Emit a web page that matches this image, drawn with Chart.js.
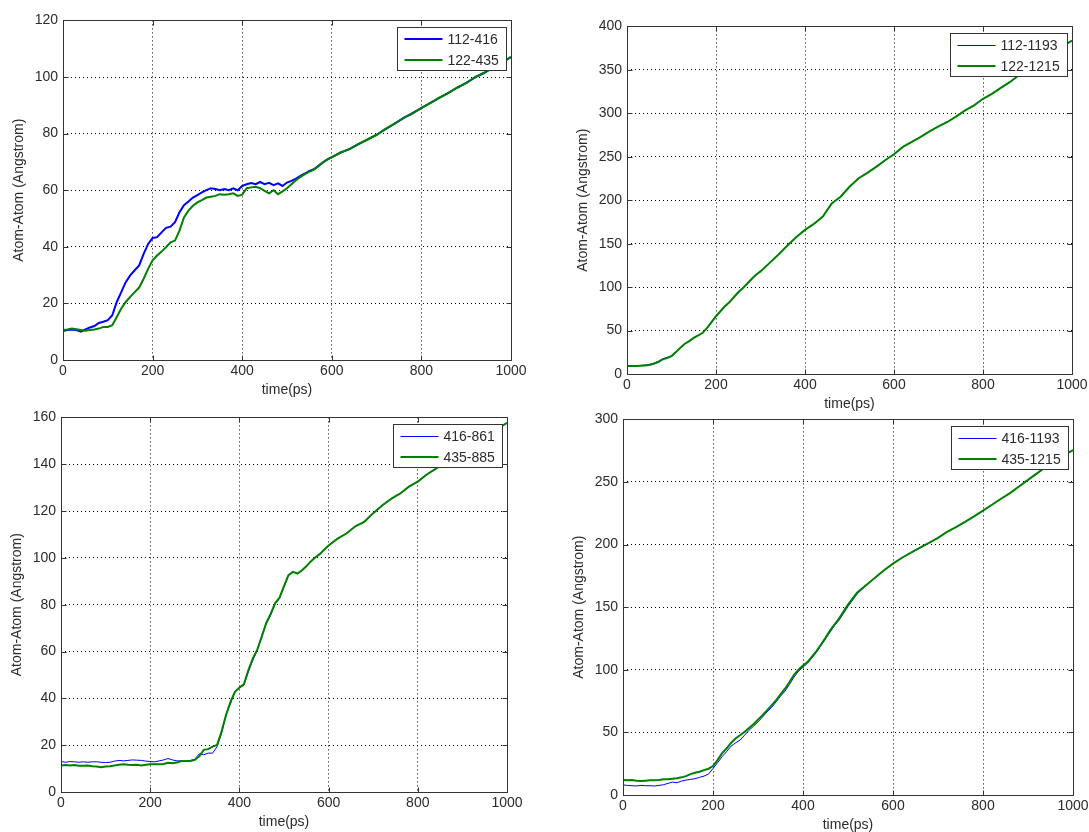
<!DOCTYPE html>
<html>
<head>
<meta charset="utf-8">
<script src="https://cdn.jsdelivr.net/npm/chart.js@4.4.1/dist/chart.umd.min.js"></script>
<style>
  html, body { margin:0; padding:0; background:#ffffff; width:1089px; height:832px; overflow:hidden; }
  canvas { position:absolute; }
</style>
</head>
<body>
<canvas id="c1" style="left:11px;top:7px" width="522" height="392"></canvas>
<canvas id="c2" style="left:575px;top:13px" width="519" height="400"></canvas>
<canvas id="c3" style="left:9px;top:404px" width="520" height="427"></canvas>
<canvas id="c4" style="left:571px;top:406px" width="524" height="428"></canvas>
<script>
// ---------- DATA ----------
const xTicks = [0, 200, 400, 600, 800, 1000];
const yTitle = 'Atom-Atom (Angstrom)';
const xTitle = 'time(ps)';

// Panel 1
const labels1 = ['112-416', '122-435'];
const yTicks1 = [0, 20, 40, 60, 80, 100, 120];
const time1 = [0,10,20,30,40,50,60,70,80,90,100,110,120,130,140,150,160,170,180,190,200,210,220,230,240,250,260,270,280,290,300,310,320,330,340,350,360,370,380,390,400,410,420,430,440,450,460,470,480,490,500,510,520,530,540,550,560,570,580,590,600,620,640,660,680,700,720,740,760,780,800,820,840,860,880,900,920,940,960,980,1000];
const blue1 = [10.2,10.6,10.8,10.6,10.0,10.8,11.5,12.0,13.1,13.5,14.1,15.8,20.5,24.0,27.5,29.9,31.7,33.4,37.5,41.0,43.1,43.4,45.1,46.7,47.1,48.7,52.2,54.7,56.0,57.4,58.3,59.2,60.0,60.7,60.4,60.0,60.4,60.0,60.7,60.0,61.5,62.1,62.5,62.1,62.9,62.1,62.6,61.8,62.4,61.5,62.7,63.3,64.1,65.1,65.9,66.8,67.4,68.6,69.8,70.9,71.7,73.3,74.6,76.4,77.9,79.6,81.6,83.5,85.5,87.2,89.0,90.9,92.6,94.4,96.2,97.9,99.9,101.5,103.4,105.2,107.0];
const green1 = [10.6,10.8,11.1,10.9,10.6,10.3,10.6,10.8,11.1,11.7,11.7,12.3,15.2,18.2,20.5,22.3,24.0,25.6,28.7,32.2,35.2,36.9,38.3,39.9,41.6,42.2,45.7,50.4,52.8,54.5,55.7,56.5,57.4,57.7,58.0,58.6,58.4,58.6,58.9,58.0,58.4,60.7,61.0,61.2,60.7,59.8,58.9,60.0,58.6,59.6,60.7,62.1,63.5,64.7,65.7,66.6,67.3,68.5,69.8,70.8,71.6,73.4,74.5,76.3,78.0,79.5,81.7,83.4,85.6,87.1,89.1,90.8,92.7,94.3,96.3,97.8,100.0,101.4,103.5,105.1,107.1];

// Panel 2
const labels2 = ['112-1193', '122-1215'];
const yTicks2 = [0, 50, 100, 150, 200, 250, 300, 350, 400];
const time2 = [0,10,20,30,40,50,60,70,80,90,100,110,120,130,140,150,160,170,180,190,200,210,220,230,240,250,260,270,280,290,300,320,340,360,380,400,420,440,460,480,500,520,540,560,580,600,620,640,660,680,700,720,740,760,780,800,820,840,860,880,900,920,940,960,980,1000];
const blue2 = [9.3,9.4,9.3,9.8,10.2,10.8,12.4,14.5,17.5,19.0,21.0,25.5,30.3,34.9,37.8,41.6,44.3,47.4,53.1,59.6,66.5,72.2,77.9,82.5,88.3,94.0,98.6,103.9,109.3,114.2,118.1,127.6,137.2,147.5,157.4,165.8,172.7,181.1,196.4,204.0,215.5,225.0,231.5,238.4,246.0,252.9,261.3,267.0,272.8,279.3,285.0,290.0,296.5,303.3,309.1,316.7,322.4,329.3,335.8,343.5,350.0,357.0,364.0,370.5,377.5,383.6];
const green2 = [9.2,9.3,9.2,9.6,9.9,10.3,11.8,13.8,16.8,18.3,20.6,25.2,30.2,34.8,37.8,41.6,44.3,47.4,53.1,59.6,66.5,72.2,77.9,82.5,88.3,94.0,98.6,103.9,109.3,114.2,118.1,127.6,137.2,147.5,157.4,165.8,172.7,181.1,196.4,204.0,215.5,225.0,231.5,238.4,246.0,252.9,261.3,267.0,272.8,279.3,285.0,290.0,296.5,303.3,309.1,316.7,322.4,329.3,335.8,343.5,350.0,357.0,364.0,370.5,377.5,383.6];

// Panel 3
const labels3 = ['416-861', '435-885'];
const yTicks3 = [0, 20, 40, 60, 80, 100, 120, 140, 160];
const time3 = [0,10,20,30,40,50,60,70,80,90,100,110,120,130,140,150,160,170,180,190,200,210,220,230,240,250,260,270,280,290,300,310,320,330,340,350,360,370,380,390,400,410,420,430,440,450,460,470,480,490,500,510,520,530,540,550,560,570,580,590,600,620,640,660,680,700,720,740,760,780,800,820,840,860,880,900,920,940,960,980,1000];
const blue3 = [13.0,12.7,13.0,12.9,12.7,12.9,12.7,12.9,12.9,12.7,12.6,12.7,13.2,13.5,13.3,13.5,13.7,13.6,13.5,13.2,13.0,12.9,13.3,13.7,14.3,13.7,13.3,13.3,13.3,13.5,14.0,16.3,15.9,16.6,16.6,19.4,25.1,32.9,37.8,42.8,44.6,45.6,51.3,56.2,60.5,66.9,71.8,75.4,80.3,82.8,87.6,92.4,94.0,93.3,94.6,96.4,98.5,100.2,101.6,103.5,105.3,108.1,110.5,113.4,115.5,119.0,122.5,125.1,127.5,130.3,132.7,135.5,138.1,140.6,143.1,145.5,148.0,150.4,152.8,155.2,157.6];
const green3 = [11.3,11.5,11.3,11.5,11.2,11.2,11.3,11.0,10.9,10.6,10.9,11.0,11.3,11.6,11.8,11.6,11.5,11.6,11.3,11.6,11.8,11.8,11.9,12.0,12.5,12.3,12.6,13.2,13.2,13.2,13.7,15.2,18.0,18.3,19.4,20.1,25.8,32.9,38.5,42.8,44.6,46.0,52.0,57.0,60.8,66.2,72.1,76.1,80.6,83.0,87.9,92.6,94.0,93.3,94.6,96.4,98.5,100.2,101.6,103.5,105.3,108.2,110.4,113.5,115.4,119.1,122.4,125.2,127.4,130.4,132.6,135.6,138.0,140.7,143.0,145.6,147.9,150.5,152.7,155.3,157.7];

// Panel 4
const labels4 = ['416-1193', '435-1215'];
const yTicks4 = [0, 50, 100, 150, 200, 250, 300];
const time4 = [0,10,20,30,40,50,60,70,80,90,100,110,120,130,140,150,160,170,180,190,200,210,220,230,240,250,260,270,280,290,300,310,320,330,340,350,360,370,380,390,400,410,420,430,440,450,460,470,480,490,500,520,540,560,580,600,620,640,660,680,700,720,740,760,780,800,820,840,860,880,900,920,940,960,980,1000];
const blue4 = [8.0,7.7,7.4,7.2,7.7,7.4,7.4,7.2,7.7,8.2,9.3,10.3,9.8,11.1,11.9,12.5,13.0,14.1,15.1,16.7,21.2,25.7,30.5,34.5,39.0,41.6,43.8,47.7,51.7,54.9,58.4,62.3,66.3,69.8,74.3,78.8,83.0,88.3,94.2,98.9,102.1,105.3,109.5,114.1,119.4,124.7,130.0,135.3,139.5,145.0,150.5,160.5,167.3,173.4,179.4,184.7,189.4,193.4,197.4,201.3,205.3,210.1,213.8,218.0,222.5,227.0,231.7,236.5,241.0,246.3,251.6,256.8,262.1,266.6,271.4,275.3];
const green4 = [11.9,11.7,11.9,11.4,11.1,11.4,11.7,11.7,11.9,12.5,12.5,13.0,13.3,14.1,15.1,16.7,17.8,18.6,19.9,21.0,23.1,27.9,33.2,37.1,41.6,45.1,47.7,50.4,53.6,56.5,60.2,63.7,67.6,71.6,75.6,80.4,84.9,90.2,96.0,100.0,103.4,106.1,110.6,114.9,120.2,125.5,131.3,136.1,141.0,146.5,152.0,161.5,167.5,173.5,179.5,184.8,189.5,193.5,197.5,201.4,205.4,210.2,213.9,218.1,222.6,227.1,231.8,236.6,241.1,246.4,251.7,256.9,262.2,266.7,271.5,275.4];

// ---------- STYLE ----------
const FONT = { family: "'Liberation Sans', Arial, Helvetica, sans-serif", size: 14 };
const TEXT = '#2b2b2b';
const BOX = '#333333';
const BLUE = '#0000ff';
const GREEN = '#008000';

const matlabPlugin = {
  id: 'matlabBox',
  afterDraw(chart) {
    const ctx = chart.ctx;
    const a = chart.chartArea;
    const xs = chart.scales.x, ys = chart.scales.y;
    const L = Math.round(a.left) + 0.5, R = Math.round(a.right) + 0.5;
    const T = Math.round(a.top) + 0.5, B = Math.round(a.bottom) + 0.5;
    ctx.save();
    ctx.strokeStyle = BOX;
    ctx.lineWidth = 1;
    ctx.setLineDash([]);
    ctx.beginPath();
    ctx.rect(L, T, R - L, B - T);
    // inward tick marks
    const tl = 5;
    xs.ticks.forEach(t => {
      const p = Math.round(xs.getPixelForValue(t.value)) + 0.5;
      ctx.moveTo(p, B); ctx.lineTo(p, B - tl);
      ctx.moveTo(p, T); ctx.lineTo(p, T + tl);
    });
    ys.ticks.forEach(t => {
      const p = Math.round(ys.getPixelForValue(t.value)) + 0.5;
      ctx.moveTo(L, p); ctx.lineTo(L + tl, p);
      ctx.moveTo(R, p); ctx.lineTo(R - tl, p);
    });
    ctx.stroke();

    // legend box (top-right, inside axes)
    ctx.font = FONT.size + 'px ' + FONT.family;
    const ds = chart.data.datasets;
    let tw = 0;
    ds.forEach(d => { tw = Math.max(tw, ctx.measureText(d.label).width); });
    const w = Math.round(50 + tw + 8), h = 43;
    const lx = Math.round(a.right) - 5 - w + 0.5;
    const ly = Math.round(a.top) + 7 + 0.5;
    ctx.fillStyle = '#ffffff';
    ctx.fillRect(lx, ly, w, h);
    ctx.strokeStyle = BOX;
    ctx.strokeRect(lx, ly, w, h);
    const rows = [11.5, 32];
    ds.forEach((d, i) => {
      const yy = Math.round(ly + rows[i]);
      ctx.strokeStyle = d.borderColor;
      ctx.lineWidth = d.borderWidth;
      ctx.beginPath();
      ctx.moveTo(lx + 7, yy + (d.borderWidth === 1 ? 0.5 : 0));
      ctx.lineTo(lx + 45, yy + (d.borderWidth === 1 ? 0.5 : 0));
      ctx.stroke();
      ctx.fillStyle = TEXT;
      ctx.textBaseline = 'middle';
      ctx.textAlign = 'left';
      ctx.fillText(d.label, lx + 50, yy + 1);
    });
    ctx.restore();
  }
};

function makeChart(id, time, blue, green, labels, yTicks, blueWidth) {
  const yMax = yTicks[yTicks.length - 1];
  new Chart(document.getElementById(id), {
    type: 'line',
    data: {
      datasets: [
        { label: labels[0], data: time.map((t, i) => ({ x: t, y: blue[i] })),
          borderColor: BLUE, borderWidth: blueWidth, pointRadius: 0, tension: 0, order: 1, fill: false },
        { label: labels[1], data: time.map((t, i) => ({ x: t, y: green[i] })),
          borderColor: GREEN, borderWidth: 2, pointRadius: 0, tension: 0, order: 0, fill: false }
      ]
    },
    options: {
      responsive: false,
      animation: false,
      devicePixelRatio: 1,
      events: [],
      layout: { padding: { top: 12, right: 22, left: 0, bottom: 0 } },
      plugins: { legend: { display: false }, tooltip: { enabled: false } },
      scales: {
        x: {
          type: 'linear', min: 0, max: 1000,
          afterBuildTicks: s => { s.ticks = xTicks.map(v => ({ value: v })); },
          ticks: { font: FONT, color: TEXT, padding: 3, maxRotation: 0, autoSkip: false,
                   callback: v => String(v) },
          grid: { color: '#000000', lineWidth: 1, drawTicks: false },
          border: { display: false, dash: [1, 3] },
          title: { display: true, text: xTitle, font: FONT, color: TEXT, padding: 0 },
          afterFit: s => { s.height = 39; }
        },
        y: {
          type: 'linear', min: 0, max: yMax,
          afterBuildTicks: s => { s.ticks = yTicks.map(v => ({ value: v })); },
          ticks: { font: FONT, color: TEXT, padding: 5, autoSkip: false,
                   callback: v => String(v) },
          grid: { color: '#000000', lineWidth: 1, drawTicks: false },
          border: { display: false, dash: [1, 3] },
          title: { display: true, text: yTitle, font: FONT, color: TEXT, padding: 0 },
          afterFit: s => { s.width = 52; }
        }
      }
    },
    plugins: [matlabPlugin]
  });
}

makeChart('c1', time1, blue1, green1, labels1, yTicks1, 2);
makeChart('c2', time2, blue2, green2, labels2, yTicks2, 1);
makeChart('c3', time3, blue3, green3, labels3, yTicks3, 1);
makeChart('c4', time4, blue4, green4, labels4, yTicks4, 1);
</script>
</body>
</html>
